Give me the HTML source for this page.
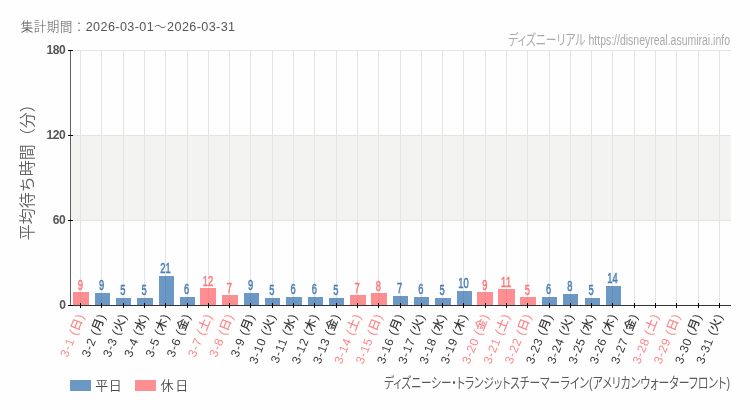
<!DOCTYPE html>
<html lang="ja"><head><meta charset="utf-8"><title>集計期間：2026-03-01～2026-03-31</title>
<style>
html,body{margin:0;padding:0;background:#fefefe;}
body{width:750px;height:410px;overflow:hidden;}
svg{display:block;will-change:transform;}
text{font-family:"Liberation Sans","Noto Sans CJK JP",sans-serif;}
.cond{font-family:"Liberation Sans","Noto Sans CJK JP",sans-serif;}
.palt{font-feature-settings:"palt" 1;}
</style></head><body>
<svg width="750" height="410" viewBox="0 0 750 410">
<rect x="0" y="0" width="750" height="410" fill="#fefefe"/>
<rect x="71.0" y="135.0" width="660.0" height="85.0" fill="#f3f4f2"/>
<line x1="70.0" y1="220.5" x2="731.0" y2="220.5" stroke="#e4e4e4" stroke-width="1"/>
<line x1="70.0" y1="135.5" x2="731.0" y2="135.5" stroke="#e4e4e4" stroke-width="1"/>
<line x1="70.0" y1="50.5" x2="731.0" y2="50.5" stroke="#e4e4e4" stroke-width="1"/>
<line x1="80.5" y1="50.0" x2="80.5" y2="305.0" stroke="#e4e4e4" stroke-width="1"/>
<line x1="101.5" y1="50.0" x2="101.5" y2="305.0" stroke="#e4e4e4" stroke-width="1"/>
<line x1="123.5" y1="50.0" x2="123.5" y2="305.0" stroke="#e4e4e4" stroke-width="1"/>
<line x1="144.5" y1="50.0" x2="144.5" y2="305.0" stroke="#e4e4e4" stroke-width="1"/>
<line x1="165.5" y1="50.0" x2="165.5" y2="305.0" stroke="#e4e4e4" stroke-width="1"/>
<line x1="187.5" y1="50.0" x2="187.5" y2="305.0" stroke="#e4e4e4" stroke-width="1"/>
<line x1="208.5" y1="50.0" x2="208.5" y2="305.0" stroke="#e4e4e4" stroke-width="1"/>
<line x1="229.5" y1="50.0" x2="229.5" y2="305.0" stroke="#e4e4e4" stroke-width="1"/>
<line x1="250.5" y1="50.0" x2="250.5" y2="305.0" stroke="#e4e4e4" stroke-width="1"/>
<line x1="272.5" y1="50.0" x2="272.5" y2="305.0" stroke="#e4e4e4" stroke-width="1"/>
<line x1="293.5" y1="50.0" x2="293.5" y2="305.0" stroke="#e4e4e4" stroke-width="1"/>
<line x1="314.5" y1="50.0" x2="314.5" y2="305.0" stroke="#e4e4e4" stroke-width="1"/>
<line x1="336.5" y1="50.0" x2="336.5" y2="305.0" stroke="#e4e4e4" stroke-width="1"/>
<line x1="357.5" y1="50.0" x2="357.5" y2="305.0" stroke="#e4e4e4" stroke-width="1"/>
<line x1="378.5" y1="50.0" x2="378.5" y2="305.0" stroke="#e4e4e4" stroke-width="1"/>
<line x1="400.5" y1="50.0" x2="400.5" y2="305.0" stroke="#e4e4e4" stroke-width="1"/>
<line x1="421.5" y1="50.0" x2="421.5" y2="305.0" stroke="#e4e4e4" stroke-width="1"/>
<line x1="442.5" y1="50.0" x2="442.5" y2="305.0" stroke="#e4e4e4" stroke-width="1"/>
<line x1="463.5" y1="50.0" x2="463.5" y2="305.0" stroke="#e4e4e4" stroke-width="1"/>
<line x1="485.5" y1="50.0" x2="485.5" y2="305.0" stroke="#e4e4e4" stroke-width="1"/>
<line x1="506.5" y1="50.0" x2="506.5" y2="305.0" stroke="#e4e4e4" stroke-width="1"/>
<line x1="527.5" y1="50.0" x2="527.5" y2="305.0" stroke="#e4e4e4" stroke-width="1"/>
<line x1="549.5" y1="50.0" x2="549.5" y2="305.0" stroke="#e4e4e4" stroke-width="1"/>
<line x1="570.5" y1="50.0" x2="570.5" y2="305.0" stroke="#e4e4e4" stroke-width="1"/>
<line x1="591.5" y1="50.0" x2="591.5" y2="305.0" stroke="#e4e4e4" stroke-width="1"/>
<line x1="612.5" y1="50.0" x2="612.5" y2="305.0" stroke="#e4e4e4" stroke-width="1"/>
<line x1="634.5" y1="50.0" x2="634.5" y2="305.0" stroke="#e4e4e4" stroke-width="1"/>
<line x1="655.5" y1="50.0" x2="655.5" y2="305.0" stroke="#e4e4e4" stroke-width="1"/>
<line x1="676.5" y1="50.0" x2="676.5" y2="305.0" stroke="#e4e4e4" stroke-width="1"/>
<line x1="698.5" y1="50.0" x2="698.5" y2="305.0" stroke="#e4e4e4" stroke-width="1"/>
<line x1="719.5" y1="50.0" x2="719.5" y2="305.0" stroke="#e4e4e4" stroke-width="1"/>
<rect x="73" y="292" width="16" height="13.0" fill="#fd8f92"/>
<rect x="95" y="293" width="15" height="12.0" fill="#6b98c5"/>
<rect x="116" y="298" width="15" height="7.0" fill="#6b98c5"/>
<rect x="137" y="298" width="16" height="7.0" fill="#6b98c5"/>
<rect x="159" y="276" width="15" height="29.0" fill="#6b98c5"/>
<rect x="180" y="297" width="15" height="8.0" fill="#6b98c5"/>
<rect x="200" y="288" width="16" height="17.0" fill="#fd8f92"/>
<rect x="222" y="295" width="16" height="10.0" fill="#fd8f92"/>
<rect x="244" y="293" width="15" height="12.0" fill="#6b98c5"/>
<rect x="265" y="298" width="15" height="7.0" fill="#6b98c5"/>
<rect x="286" y="297" width="16" height="8.0" fill="#6b98c5"/>
<rect x="308" y="297" width="15" height="8.0" fill="#6b98c5"/>
<rect x="329" y="298" width="15" height="7.0" fill="#6b98c5"/>
<rect x="350" y="295" width="16" height="10.0" fill="#fd8f92"/>
<rect x="371" y="293" width="16" height="12.0" fill="#fd8f92"/>
<rect x="393" y="296" width="15" height="9.0" fill="#6b98c5"/>
<rect x="414" y="297" width="15" height="8.0" fill="#6b98c5"/>
<rect x="435" y="298" width="16" height="7.0" fill="#6b98c5"/>
<rect x="457" y="291" width="15" height="14.0" fill="#6b98c5"/>
<rect x="477" y="292" width="16" height="13.0" fill="#fd8f92"/>
<rect x="498" y="289" width="17" height="16.0" fill="#fd8f92"/>
<rect x="520" y="297" width="16" height="8.0" fill="#fd8f92"/>
<rect x="542" y="297" width="15" height="8.0" fill="#6b98c5"/>
<rect x="563" y="294" width="15" height="11.0" fill="#6b98c5"/>
<rect x="585" y="298" width="15" height="7.0" fill="#6b98c5"/>
<rect x="606" y="286" width="15" height="19.0" fill="#6b98c5"/>
<line x1="80.5" y1="292" x2="80.5" y2="305.0" stroke="#f4868a" stroke-width="1"/>
<line x1="101.5" y1="293" x2="101.5" y2="305.0" stroke="#628eba" stroke-width="1"/>
<line x1="123.5" y1="298" x2="123.5" y2="305.0" stroke="#628eba" stroke-width="1"/>
<line x1="144.5" y1="298" x2="144.5" y2="305.0" stroke="#628eba" stroke-width="1"/>
<line x1="165.5" y1="276" x2="165.5" y2="305.0" stroke="#628eba" stroke-width="1"/>
<line x1="187.5" y1="297" x2="187.5" y2="305.0" stroke="#628eba" stroke-width="1"/>
<line x1="208.5" y1="288" x2="208.5" y2="305.0" stroke="#f4868a" stroke-width="1"/>
<line x1="229.5" y1="295" x2="229.5" y2="305.0" stroke="#f4868a" stroke-width="1"/>
<line x1="250.5" y1="293" x2="250.5" y2="305.0" stroke="#628eba" stroke-width="1"/>
<line x1="272.5" y1="298" x2="272.5" y2="305.0" stroke="#628eba" stroke-width="1"/>
<line x1="293.5" y1="297" x2="293.5" y2="305.0" stroke="#628eba" stroke-width="1"/>
<line x1="314.5" y1="297" x2="314.5" y2="305.0" stroke="#628eba" stroke-width="1"/>
<line x1="336.5" y1="298" x2="336.5" y2="305.0" stroke="#628eba" stroke-width="1"/>
<line x1="357.5" y1="295" x2="357.5" y2="305.0" stroke="#f4868a" stroke-width="1"/>
<line x1="378.5" y1="293" x2="378.5" y2="305.0" stroke="#f4868a" stroke-width="1"/>
<line x1="400.5" y1="296" x2="400.5" y2="305.0" stroke="#628eba" stroke-width="1"/>
<line x1="421.5" y1="297" x2="421.5" y2="305.0" stroke="#628eba" stroke-width="1"/>
<line x1="442.5" y1="298" x2="442.5" y2="305.0" stroke="#628eba" stroke-width="1"/>
<line x1="463.5" y1="291" x2="463.5" y2="305.0" stroke="#628eba" stroke-width="1"/>
<line x1="485.5" y1="292" x2="485.5" y2="305.0" stroke="#f4868a" stroke-width="1"/>
<line x1="506.5" y1="289" x2="506.5" y2="305.0" stroke="#f4868a" stroke-width="1"/>
<line x1="527.5" y1="297" x2="527.5" y2="305.0" stroke="#f4868a" stroke-width="1"/>
<line x1="549.5" y1="297" x2="549.5" y2="305.0" stroke="#628eba" stroke-width="1"/>
<line x1="570.5" y1="294" x2="570.5" y2="305.0" stroke="#628eba" stroke-width="1"/>
<line x1="591.5" y1="298" x2="591.5" y2="305.0" stroke="#628eba" stroke-width="1"/>
<line x1="612.5" y1="286" x2="612.5" y2="305.0" stroke="#628eba" stroke-width="1"/>
<line x1="70.5" y1="50.0" x2="70.5" y2="306.0" stroke="#606060" stroke-width="1"/>
<line x1="68.0" y1="305.5" x2="731.0" y2="305.5" stroke="#333" stroke-width="1"/>
<line x1="68.0" y1="305.5" x2="73.0" y2="305.5" stroke="#000" stroke-width="1"/>
<text x="65.5" y="308.8" font-size="12" font-weight="700" fill="#555" text-anchor="end" letter-spacing="-0.3">0</text>
<line x1="68.0" y1="220.5" x2="73.0" y2="220.5" stroke="#000" stroke-width="1"/>
<text x="65.5" y="223.8" font-size="12" font-weight="700" fill="#555" text-anchor="end" letter-spacing="-0.3">60</text>
<line x1="68.0" y1="135.5" x2="73.0" y2="135.5" stroke="#000" stroke-width="1"/>
<text x="65.5" y="138.8" font-size="12" font-weight="700" fill="#555" text-anchor="end" letter-spacing="-0.3">120</text>
<line x1="68.0" y1="50.5" x2="73.0" y2="50.5" stroke="#000" stroke-width="1"/>
<text x="65.5" y="53.8" font-size="12" font-weight="700" fill="#555" text-anchor="end" letter-spacing="-0.3">180</text>
<line x1="80.5" y1="303.0" x2="80.5" y2="308.0" stroke="#000" stroke-width="1"/>
<line x1="101.5" y1="303.0" x2="101.5" y2="308.0" stroke="#000" stroke-width="1"/>
<line x1="123.5" y1="303.0" x2="123.5" y2="308.0" stroke="#000" stroke-width="1"/>
<line x1="144.5" y1="303.0" x2="144.5" y2="308.0" stroke="#000" stroke-width="1"/>
<line x1="165.5" y1="303.0" x2="165.5" y2="308.0" stroke="#000" stroke-width="1"/>
<line x1="187.5" y1="303.0" x2="187.5" y2="308.0" stroke="#000" stroke-width="1"/>
<line x1="208.5" y1="303.0" x2="208.5" y2="308.0" stroke="#000" stroke-width="1"/>
<line x1="229.5" y1="303.0" x2="229.5" y2="308.0" stroke="#000" stroke-width="1"/>
<line x1="250.5" y1="303.0" x2="250.5" y2="308.0" stroke="#000" stroke-width="1"/>
<line x1="272.5" y1="303.0" x2="272.5" y2="308.0" stroke="#000" stroke-width="1"/>
<line x1="293.5" y1="303.0" x2="293.5" y2="308.0" stroke="#000" stroke-width="1"/>
<line x1="314.5" y1="303.0" x2="314.5" y2="308.0" stroke="#000" stroke-width="1"/>
<line x1="336.5" y1="303.0" x2="336.5" y2="308.0" stroke="#000" stroke-width="1"/>
<line x1="357.5" y1="303.0" x2="357.5" y2="308.0" stroke="#000" stroke-width="1"/>
<line x1="378.5" y1="303.0" x2="378.5" y2="308.0" stroke="#000" stroke-width="1"/>
<line x1="400.5" y1="303.0" x2="400.5" y2="308.0" stroke="#000" stroke-width="1"/>
<line x1="421.5" y1="303.0" x2="421.5" y2="308.0" stroke="#000" stroke-width="1"/>
<line x1="442.5" y1="303.0" x2="442.5" y2="308.0" stroke="#000" stroke-width="1"/>
<line x1="463.5" y1="303.0" x2="463.5" y2="308.0" stroke="#000" stroke-width="1"/>
<line x1="485.5" y1="303.0" x2="485.5" y2="308.0" stroke="#000" stroke-width="1"/>
<line x1="506.5" y1="303.0" x2="506.5" y2="308.0" stroke="#000" stroke-width="1"/>
<line x1="527.5" y1="303.0" x2="527.5" y2="308.0" stroke="#000" stroke-width="1"/>
<line x1="549.5" y1="303.0" x2="549.5" y2="308.0" stroke="#000" stroke-width="1"/>
<line x1="570.5" y1="303.0" x2="570.5" y2="308.0" stroke="#000" stroke-width="1"/>
<line x1="591.5" y1="303.0" x2="591.5" y2="308.0" stroke="#000" stroke-width="1"/>
<line x1="612.5" y1="303.0" x2="612.5" y2="308.0" stroke="#000" stroke-width="1"/>
<line x1="634.5" y1="303.0" x2="634.5" y2="308.0" stroke="#000" stroke-width="1"/>
<line x1="655.5" y1="303.0" x2="655.5" y2="308.0" stroke="#000" stroke-width="1"/>
<line x1="676.5" y1="303.0" x2="676.5" y2="308.0" stroke="#000" stroke-width="1"/>
<line x1="698.5" y1="303.0" x2="698.5" y2="308.0" stroke="#000" stroke-width="1"/>
<line x1="719.5" y1="303.0" x2="719.5" y2="308.0" stroke="#000" stroke-width="1"/>
<text transform="translate(80.65,314.00) rotate(-68.0)" font-size="12.0" letter-spacing="0.7" font-weight="500" fill="#fb878a" text-anchor="end" dy="0.36em">3-1 (日)</text>
<text transform="translate(101.94,314.00) rotate(-68.0)" font-size="12.0" letter-spacing="0.7" font-weight="500" fill="#383838" text-anchor="end" dy="0.36em">3-2 (月)</text>
<text transform="translate(123.23,314.00) rotate(-68.0)" font-size="12.0" letter-spacing="0.7" font-weight="500" fill="#383838" text-anchor="end" dy="0.36em">3-3 (火)</text>
<text transform="translate(144.52,314.00) rotate(-68.0)" font-size="12.0" letter-spacing="0.7" font-weight="500" fill="#383838" text-anchor="end" dy="0.36em">3-4 (水)</text>
<text transform="translate(165.81,314.00) rotate(-68.0)" font-size="12.0" letter-spacing="0.7" font-weight="500" fill="#383838" text-anchor="end" dy="0.36em">3-5 (木)</text>
<text transform="translate(187.10,314.00) rotate(-68.0)" font-size="12.0" letter-spacing="0.7" font-weight="500" fill="#383838" text-anchor="end" dy="0.36em">3-6 (金)</text>
<text transform="translate(208.39,314.00) rotate(-68.0)" font-size="12.0" letter-spacing="0.7" font-weight="500" fill="#fb878a" text-anchor="end" dy="0.36em">3-7 (土)</text>
<text transform="translate(229.68,314.00) rotate(-68.0)" font-size="12.0" letter-spacing="0.7" font-weight="500" fill="#fb878a" text-anchor="end" dy="0.36em">3-8 (日)</text>
<text transform="translate(250.97,314.00) rotate(-68.0)" font-size="12.0" letter-spacing="0.7" font-weight="500" fill="#383838" text-anchor="end" dy="0.36em">3-9 (月)</text>
<text transform="translate(272.26,314.00) rotate(-68.0)" font-size="12.0" letter-spacing="0.7" font-weight="500" fill="#383838" text-anchor="end" dy="0.36em">3-10 (火)</text>
<text transform="translate(293.55,314.00) rotate(-68.0)" font-size="12.0" letter-spacing="0.7" font-weight="500" fill="#383838" text-anchor="end" dy="0.36em">3-11 (水)</text>
<text transform="translate(314.84,314.00) rotate(-68.0)" font-size="12.0" letter-spacing="0.7" font-weight="500" fill="#383838" text-anchor="end" dy="0.36em">3-12 (木)</text>
<text transform="translate(336.13,314.00) rotate(-68.0)" font-size="12.0" letter-spacing="0.7" font-weight="500" fill="#383838" text-anchor="end" dy="0.36em">3-13 (金)</text>
<text transform="translate(357.42,314.00) rotate(-68.0)" font-size="12.0" letter-spacing="0.7" font-weight="500" fill="#fb878a" text-anchor="end" dy="0.36em">3-14 (土)</text>
<text transform="translate(378.71,314.00) rotate(-68.0)" font-size="12.0" letter-spacing="0.7" font-weight="500" fill="#fb878a" text-anchor="end" dy="0.36em">3-15 (日)</text>
<text transform="translate(400.00,314.00) rotate(-68.0)" font-size="12.0" letter-spacing="0.7" font-weight="500" fill="#383838" text-anchor="end" dy="0.36em">3-16 (月)</text>
<text transform="translate(421.29,314.00) rotate(-68.0)" font-size="12.0" letter-spacing="0.7" font-weight="500" fill="#383838" text-anchor="end" dy="0.36em">3-17 (火)</text>
<text transform="translate(442.58,314.00) rotate(-68.0)" font-size="12.0" letter-spacing="0.7" font-weight="500" fill="#383838" text-anchor="end" dy="0.36em">3-18 (水)</text>
<text transform="translate(463.87,314.00) rotate(-68.0)" font-size="12.0" letter-spacing="0.7" font-weight="500" fill="#383838" text-anchor="end" dy="0.36em">3-19 (木)</text>
<text transform="translate(485.16,314.00) rotate(-68.0)" font-size="12.0" letter-spacing="0.7" font-weight="500" fill="#fb878a" text-anchor="end" dy="0.36em">3-20 (金)</text>
<text transform="translate(506.45,314.00) rotate(-68.0)" font-size="12.0" letter-spacing="0.7" font-weight="500" fill="#fb878a" text-anchor="end" dy="0.36em">3-21 (土)</text>
<text transform="translate(527.74,314.00) rotate(-68.0)" font-size="12.0" letter-spacing="0.7" font-weight="500" fill="#fb878a" text-anchor="end" dy="0.36em">3-22 (日)</text>
<text transform="translate(549.03,314.00) rotate(-68.0)" font-size="12.0" letter-spacing="0.7" font-weight="500" fill="#383838" text-anchor="end" dy="0.36em">3-23 (月)</text>
<text transform="translate(570.32,314.00) rotate(-68.0)" font-size="12.0" letter-spacing="0.7" font-weight="500" fill="#383838" text-anchor="end" dy="0.36em">3-24 (火)</text>
<text transform="translate(591.61,314.00) rotate(-68.0)" font-size="12.0" letter-spacing="0.7" font-weight="500" fill="#383838" text-anchor="end" dy="0.36em">3-25 (水)</text>
<text transform="translate(612.90,314.00) rotate(-68.0)" font-size="12.0" letter-spacing="0.7" font-weight="500" fill="#383838" text-anchor="end" dy="0.36em">3-26 (木)</text>
<text transform="translate(634.19,314.00) rotate(-68.0)" font-size="12.0" letter-spacing="0.7" font-weight="500" fill="#383838" text-anchor="end" dy="0.36em">3-27 (金)</text>
<text transform="translate(655.48,314.00) rotate(-68.0)" font-size="12.0" letter-spacing="0.7" font-weight="500" fill="#fb878a" text-anchor="end" dy="0.36em">3-28 (土)</text>
<text transform="translate(676.77,314.00) rotate(-68.0)" font-size="12.0" letter-spacing="0.7" font-weight="500" fill="#fb878a" text-anchor="end" dy="0.36em">3-29 (日)</text>
<text transform="translate(698.06,314.00) rotate(-68.0)" font-size="12.0" letter-spacing="0.7" font-weight="500" fill="#383838" text-anchor="end" dy="0.36em">3-30 (月)</text>
<text transform="translate(719.35,314.00) rotate(-68.0)" font-size="12.0" letter-spacing="0.7" font-weight="500" fill="#383838" text-anchor="end" dy="0.36em">3-31 (火)</text>
<text class="cond" x="80.25" y="289.7" font-size="15.5" font-weight="400" stroke="#fb787c" stroke-width="0.55" fill="#fb787c" text-anchor="middle" textLength="5.2" lengthAdjust="spacingAndGlyphs">9</text>
<text class="cond" x="101.54" y="290" font-size="15.5" font-weight="400" stroke="#4a7fb6" stroke-width="0.55" fill="#4a7fb6" text-anchor="middle" textLength="5.2" lengthAdjust="spacingAndGlyphs">9</text>
<text class="cond" x="122.83" y="295" font-size="15.5" font-weight="400" stroke="#4a7fb6" stroke-width="0.55" fill="#4a7fb6" text-anchor="middle" textLength="5.2" lengthAdjust="spacingAndGlyphs">5</text>
<text class="cond" x="144.12" y="295" font-size="15.5" font-weight="400" stroke="#4a7fb6" stroke-width="0.55" fill="#4a7fb6" text-anchor="middle" textLength="5.2" lengthAdjust="spacingAndGlyphs">5</text>
<text class="cond" x="165.41" y="273" font-size="15.5" font-weight="400" stroke="#4a7fb6" stroke-width="0.55" fill="#4a7fb6" text-anchor="middle" textLength="10.4" lengthAdjust="spacingAndGlyphs">21</text>
<text class="cond" x="186.70" y="294" font-size="15.5" font-weight="400" stroke="#4a7fb6" stroke-width="0.55" fill="#4a7fb6" text-anchor="middle" textLength="5.2" lengthAdjust="spacingAndGlyphs">6</text>
<text class="cond" x="207.99" y="285.7" font-size="15.5" font-weight="400" stroke="#fb787c" stroke-width="0.55" fill="#fb787c" text-anchor="middle" textLength="10.4" lengthAdjust="spacingAndGlyphs">12</text>
<text class="cond" x="229.28" y="292.7" font-size="15.5" font-weight="400" stroke="#fb787c" stroke-width="0.55" fill="#fb787c" text-anchor="middle" textLength="5.2" lengthAdjust="spacingAndGlyphs">7</text>
<text class="cond" x="250.57" y="290" font-size="15.5" font-weight="400" stroke="#4a7fb6" stroke-width="0.55" fill="#4a7fb6" text-anchor="middle" textLength="5.2" lengthAdjust="spacingAndGlyphs">9</text>
<text class="cond" x="271.86" y="295" font-size="15.5" font-weight="400" stroke="#4a7fb6" stroke-width="0.55" fill="#4a7fb6" text-anchor="middle" textLength="5.2" lengthAdjust="spacingAndGlyphs">5</text>
<text class="cond" x="293.15" y="294" font-size="15.5" font-weight="400" stroke="#4a7fb6" stroke-width="0.55" fill="#4a7fb6" text-anchor="middle" textLength="5.2" lengthAdjust="spacingAndGlyphs">6</text>
<text class="cond" x="314.44" y="294" font-size="15.5" font-weight="400" stroke="#4a7fb6" stroke-width="0.55" fill="#4a7fb6" text-anchor="middle" textLength="5.2" lengthAdjust="spacingAndGlyphs">6</text>
<text class="cond" x="335.73" y="295" font-size="15.5" font-weight="400" stroke="#4a7fb6" stroke-width="0.55" fill="#4a7fb6" text-anchor="middle" textLength="5.2" lengthAdjust="spacingAndGlyphs">5</text>
<text class="cond" x="357.02" y="292.7" font-size="15.5" font-weight="400" stroke="#fb787c" stroke-width="0.55" fill="#fb787c" text-anchor="middle" textLength="5.2" lengthAdjust="spacingAndGlyphs">7</text>
<text class="cond" x="378.31" y="290.7" font-size="15.5" font-weight="400" stroke="#fb787c" stroke-width="0.55" fill="#fb787c" text-anchor="middle" textLength="5.2" lengthAdjust="spacingAndGlyphs">8</text>
<text class="cond" x="399.60" y="293" font-size="15.5" font-weight="400" stroke="#4a7fb6" stroke-width="0.55" fill="#4a7fb6" text-anchor="middle" textLength="5.2" lengthAdjust="spacingAndGlyphs">7</text>
<text class="cond" x="420.89" y="294" font-size="15.5" font-weight="400" stroke="#4a7fb6" stroke-width="0.55" fill="#4a7fb6" text-anchor="middle" textLength="5.2" lengthAdjust="spacingAndGlyphs">6</text>
<text class="cond" x="442.18" y="295" font-size="15.5" font-weight="400" stroke="#4a7fb6" stroke-width="0.55" fill="#4a7fb6" text-anchor="middle" textLength="5.2" lengthAdjust="spacingAndGlyphs">5</text>
<text class="cond" x="463.47" y="288" font-size="15.5" font-weight="400" stroke="#4a7fb6" stroke-width="0.55" fill="#4a7fb6" text-anchor="middle" textLength="10.4" lengthAdjust="spacingAndGlyphs">10</text>
<text class="cond" x="484.76" y="289.7" font-size="15.5" font-weight="400" stroke="#fb787c" stroke-width="0.55" fill="#fb787c" text-anchor="middle" textLength="5.2" lengthAdjust="spacingAndGlyphs">9</text>
<text class="cond" x="506.05" y="286.7" font-size="15.5" font-weight="400" stroke="#fb787c" stroke-width="0.55" fill="#fb787c" text-anchor="middle" textLength="10.4" lengthAdjust="spacingAndGlyphs">11</text>
<text class="cond" x="527.34" y="294.7" font-size="15.5" font-weight="400" stroke="#fb787c" stroke-width="0.55" fill="#fb787c" text-anchor="middle" textLength="5.2" lengthAdjust="spacingAndGlyphs">5</text>
<text class="cond" x="548.63" y="294" font-size="15.5" font-weight="400" stroke="#4a7fb6" stroke-width="0.55" fill="#4a7fb6" text-anchor="middle" textLength="5.2" lengthAdjust="spacingAndGlyphs">6</text>
<text class="cond" x="569.92" y="291" font-size="15.5" font-weight="400" stroke="#4a7fb6" stroke-width="0.55" fill="#4a7fb6" text-anchor="middle" textLength="5.2" lengthAdjust="spacingAndGlyphs">8</text>
<text class="cond" x="591.21" y="295" font-size="15.5" font-weight="400" stroke="#4a7fb6" stroke-width="0.55" fill="#4a7fb6" text-anchor="middle" textLength="5.2" lengthAdjust="spacingAndGlyphs">5</text>
<text class="cond" x="612.50" y="283" font-size="15.5" font-weight="400" stroke="#4a7fb6" stroke-width="0.55" fill="#4a7fb6" text-anchor="middle" textLength="10.4" lengthAdjust="spacingAndGlyphs">14</text>
<text x="20.8" y="30.8" font-size="12.6" fill="#555" textLength="214.3" lengthAdjust="spacing"><tspan font-weight="300">集計期間：</tspan>2026-03-01<tspan font-weight="300">～</tspan>2026-03-31</text>
<text class="cond palt" x="508" y="45" font-size="14.5" fill="#aaa" textLength="77.5" lengthAdjust="spacingAndGlyphs">ディズニーリアル</text>
<text class="cond" x="588.5" y="45" font-size="15.5" fill="#aaa" textLength="141.5" lengthAdjust="spacingAndGlyphs">https://disneyreal.asumirai.info</text>
<text transform="translate(33.0,240.3) rotate(-90)" font-size="16" font-weight="350" fill="#606060">平均待ち時間（分）</text>
<rect x="70" y="380" width="21" height="11" fill="#6b98c5"/>
<text x="95.3" y="390.3" font-size="13" font-weight="350" fill="#4a4a4a" textLength="26.5" lengthAdjust="spacing">平日</text>
<rect x="135" y="380" width="21" height="11" fill="#fd8f92"/>
<text x="160.6" y="390.3" font-size="13" font-weight="350" fill="#4a4a4a" textLength="27.6" lengthAdjust="spacing">休日</text>
<text class="cond palt" x="384" y="387.8" font-size="14.5" fill="#5a5a5a" textLength="176" lengthAdjust="spacingAndGlyphs">ディズニーシー・トランジットスチーマー</text>
<text class="cond palt" x="560.5" y="387.8" font-size="14.5" fill="#5a5a5a" textLength="169.5" lengthAdjust="spacingAndGlyphs">ライン(アメリカンウォーターフロント)</text>
</svg></body></html>
